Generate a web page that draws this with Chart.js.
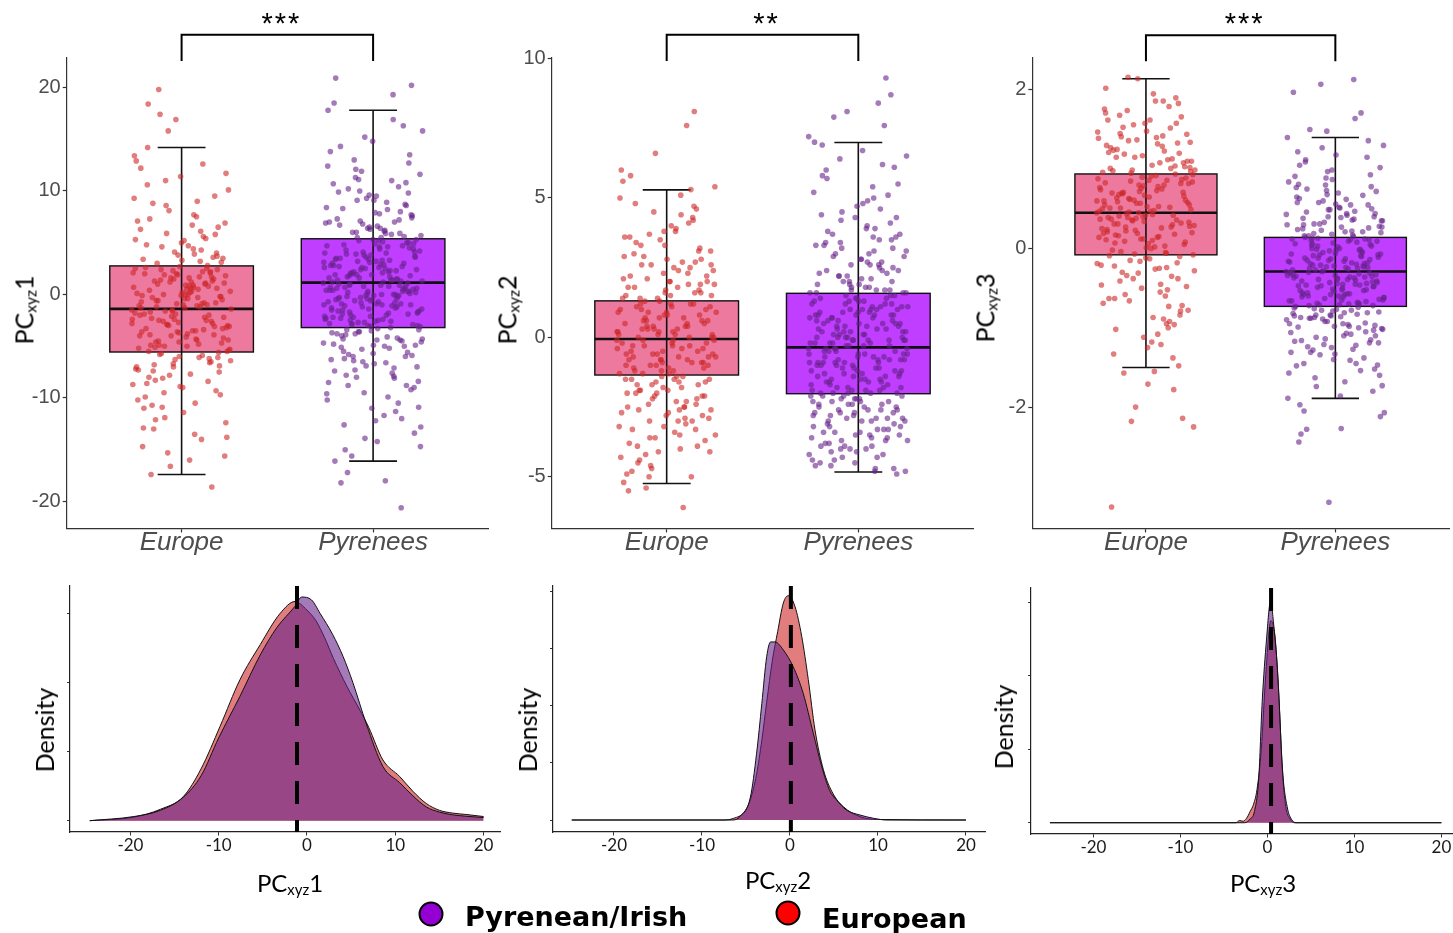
<!DOCTYPE html>
<html lang="en">
<head>
<meta charset="UTF-8">
<title>PCxyz scores: Europe vs Pyrenees</title>
<script src="https://cdn.jsdelivr.net/npm/chart.js@4.4.1/dist/chart.umd.min.js"></script>
<style>
  body { margin: 0; background: #fff; width: 1453px; height: 933px; position: relative; overflow: hidden; }
  canvas { position: absolute; }
  .ttl { position: absolute; white-space: nowrap; font-family: Lato, sans-serif; color: #000; transform: translate(-50%, -50%); }
  .rot { transform: translate(-50%, -50%) rotate(-90deg); }
  .ttl sub { font-size: 62%; vertical-align: -0.2em; }
  .dot { position: absolute; width: 21px; height: 21px; border: 2.5px solid #000; border-radius: 50%; transform: translate(-50%, -50%); }
  .lg { position: absolute; font-family: "DejaVu Sans", sans-serif; font-weight: bold; font-size: 27px; color: #000; transform: translateY(-50%); }
</style>
</head>
<body>

<canvas id="box1" width="495" height="565" style="left:0;top:0"></canvas>
<canvas id="box2" width="485" height="565" style="left:495px;top:0"></canvas>
<canvas id="box3" width="473" height="565" style="left:980px;top:0"></canvas>
<canvas id="dens1" width="475" height="300" style="left:30px;top:570px"></canvas>
<canvas id="dens2" width="480" height="300" style="left:510px;top:570px"></canvas>
<canvas id="dens3" width="463" height="300" style="left:990px;top:570px"></canvas>

<!-- axis titles -->
<div class="ttl rot" style="left:24px;top:310px;font-size:25px">PC<sub>xyz</sub>1</div>
<div class="ttl rot" style="left:507px;top:310px;font-size:25px">PC<sub>xyz</sub>2</div>
<div class="ttl rot" style="left:985px;top:308px;font-size:25px">PC<sub>xyz</sub>3</div>
<div class="ttl rot" style="left:44px;top:730px;font-size:25px">Density</div>
<div class="ttl rot" style="left:527px;top:730px;font-size:25px">Density</div>
<div class="ttl rot" style="left:1003px;top:727px;font-size:25px">Density</div>
<div class="ttl" style="left:290px;top:883px;font-size:24px">PC<sub>xyz</sub>1</div>
<div class="ttl" style="left:778px;top:880px;font-size:24px">PC<sub>xyz</sub>2</div>
<div class="ttl" style="left:1263px;top:883px;font-size:24px">PC<sub>xyz</sub>3</div>

<!-- legend -->
<div class="dot" style="left:431px;top:914px;background:#9400D3"></div>
<div class="lg" style="left:465px;top:916px">Pyrenean/Irish</div>
<div class="dot" style="left:788px;top:913px;background:#FF0000"></div>
<div class="lg" style="left:822px;top:918px">European</div>

<script>
const categories = ['Europe', 'Pyrenees'];

// jittered individual scores
const eurPC1 = [-1.5, 4.4, -8.3, 0.6, -3.7, 12.2, -5.9, 1.9, -12.4, -0.4, 7.3, -2.6, -6.7, 2.5, -4.4, 19.8,
  -9.7, 0.2, -1.9, 5.4, -15.3, -3.1, 1.2, -7.4, 9.5, -0.9, -5.2, 3.2, -10.9, -2.2, 0.9, 14.2,
  -6.2, -4.0, 2.1, -13.5, -1.2, 6.5, -8.9, -0.1, -3.4, 11.0, -5.5, 1.6, -17.4, -2.8, 4.1, -7.0,
  0.5, 17.4, -4.7, -11.4, 2.6, -1.0, 8.1, -6.4, -3.5, 1.3, -9.3, 3.8, -2.0, -14.0, 0.0, 6.9,
  -5.0, -8.0, 2.2, -1.6, 13.4, -4.3, -0.6, -6.9, 5.0, -12.9, 1.0, -2.9, 10.1, -7.7, -0.3, -3.9,
  16.9, -10.2, 1.7, -5.7, 3.5, -1.3, -8.6, 0.8, -16.6, -2.4, 7.7, -4.6, 2.4, -6.0, -0.7, 12.6,
  -11.9, -3.2, 4.7, -1.7, -18.6, 1.5, -7.2, 9.0, -4.9, -0.2, -9.0, 2.0, -2.5, 15.8, -5.3, 0.3,
  -13.0, 5.8, -3.6, -1.1, 6.1, -8.1, 1.1, -4.1, 18.4, -6.6, -2.1, 0.7, -10.5, 3.0, -5.6, 11.4,
  -14.7, -0.8, 8.6, -3.0, -16.0,
  -2.3, 3.6, -6.3, 0.1, -4.8, 1.4, -0.5, 5.2, -3.3, 2.8, -7.8, -1.4, 0.9, -5.1, 4.0, -2.7,
  6.3, -0.9, -9.5, 1.8, -3.8, 0.4, -6.5, 2.3, -1.8, 7.5, -4.5, -0.2, 3.3, -11.0, 1.1, -2.9,
  -5.4, 0.6, 8.8, -3.1, 2.0, -7.3, -1.2, 4.6, -4.2, 0.0, 10.6, -2.0, 1.6, -8.7, 3.9, -0.6,
  -6.1, 2.7, -3.6, 5.6, -1.6, -13.8, 0.8, -4.9, 1.3, -2.4, 12.9, -0.3, -5.8, 3.1, -1.0, -9.9,
  2.5, -3.0, 0.3, 6.7, -6.8, -0.8, 1.9, -4.0, 4.3, -2.6, -15.6, 0.5, -5.5, 2.1, -1.5, 9.3,
  -3.5, 1.0, -7.5, -0.1, 3.4, -2.2, 5.9, -4.4, 0.2, -10.7, 1.5, -1.9, 7.1, -6.1, 2.4, -3.3,
  -0.4, 4.8, -8.4, 1.2, -2.8, 0.7, -12.1, 3.7, -4.6, -1.3, 2.2, -5.0, 11.7, 0.0, -3.9, 1.7,
  -7.0, 5.3, -1.1, -2.5];
const pyrPC1 = [1.1, 6.2, -3.4, 9.8, -0.6, 3.0, -7.9, 12.1, -1.8, 4.6, -5.1, 0.3, 15.2, -9.6, 2.2, -2.5,
  7.4, -0.1, 20.9, -4.2, 1.6, -12.8, 5.1, -1.1, 8.6, -3.0, 0.7, 11.0, -6.4, 3.6, -14.2, 2.7,
  -0.9, 6.8, -2.1, 4.0, -8.8, 13.5, 1.9, -4.8, 0.0, 9.1, -10.9, 2.9, -1.5, 5.6, -6.9, 17.8,
  3.3, -2.8, 0.5, 7.9, -3.8, 10.4, -0.3, 1.3, -11.7, 4.3, -5.6, 6.5, -1.3, 19.3, -7.3, 2.4,
  -0.7, 14.3, -4.5, 3.8, -2.3, 8.2, 0.9, -9.2, 5.3, -16.1, 1.5, -3.6, 11.6, -1.0, 4.8, -6.0,
  0.1, 7.0, -2.6, 2.0, -13.4, 9.5, -0.4, 5.9, -5.3, 3.1, -18.0, 1.7, 12.7, -3.1, 0.4, -8.1,
  6.0, -1.7, 4.4, -4.0, 16.3, 2.5, -10.2, 0.8, -2.0, 7.6, -6.7, 3.5, -0.2, 10.0, -4.6, 1.2,
  -15.0, 5.0, -1.4, 2.8, -7.6, 13.0, 0.2, -3.3, 6.7, -20.6, 4.1, -2.4, 8.9, -5.8, 1.8, -0.5,
  18.5, -11.3, 3.2, -1.6, 5.5, -4.3, 0.6, 9.3, -8.5, 2.3, -2.9, 4.9, -12.2, 1.4, 7.2, -0.8,
  15.8, -5.0, 3.9, -1.9, 6.3, -3.7, 0.0, 11.3, -7.0, 2.6, -18.2, 4.7, -2.7, 8.4, -9.9, 1.0,
  20.2, -4.9, 3.4, -1.2, 5.2, -14.7, 2.1, -6.2, 10.8, 0.3,
  0.4, 5.8, -2.2, 3.7, -4.4, 1.0, 8.0, -1.2, 2.6, -6.6, 0.2, 4.5, -3.5, 10.7, -0.8, 1.9,
  -8.4, 6.4, -1.9, 3.0, -0.1, 12.4, -5.2, 2.1, -2.9, 4.9, 0.6, -10.5, 7.1, -1.4, 2.9, -3.9,
  0.3, 9.6, -6.3, 1.4, -0.6, 5.3, -2.5, 3.5, -12.0, 0.8, 6.9, -4.1, 1.8, -1.0, 14.8, -7.4,
  2.3, -2.7, 4.2, 0.0, -5.5, 8.7, -0.4, 1.6, -3.2, 6.0, -9.0, 3.2, -1.6, 0.9, 11.9, -4.7,
  2.5, -0.2, 5.0, -2.1, 1.2, -7.1, 3.9, -3.0, 7.8, -0.9, 0.5, -13.9, 4.7, -1.8, 2.0, -5.9,
  9.1, -0.5, 1.5, -3.6, 5.7, -2.4, 0.7, -8.8, 3.4, 13.8, -1.1, 2.2, -4.9, 6.6, -0.3, 1.3,
  -6.5, 4.0, -2.0, 10.2, 0.1, -11.0, 2.8, -1.3, 5.5, -3.4, 0.9, 8.3, -5.0, 3.6, -0.7, 1.7,
  -15.6, 4.4, -2.6, 7.3, -0.1, 2.4, -4.3, 6.1, -7.8, 1.1, 3.1, -1.5, 16.9, -3.8, 0.6, 5.2,
  -2.3, 2.7, -9.5, 0.4, 4.6, -1.7, 7.7, -5.7, 1.9, -0.4, 11.1, -3.1, 3.3, -12.6, 0.8, 6.4,
  -2.8, 1.4, -6.0, 4.1, -0.9, 9.9, -4.4, 2.6, -1.0, 5.9, -17.2, 0.3, 3.8, -2.2, 7.0, -8.0];
const eurPC2 = [-0.1, 2.4, -1.9, 0.6, -3.2, 1.5, -0.8, 3.7, -2.6, 0.2, -1.2, 4.6, -4.1, 1.0, -0.4, 2.9,
  -1.6, 0.8, -3.8, 5.3, -0.6, 1.9, -2.3, 0.0, 3.2, -1.4, -5.2, 0.4, 2.1, -2.9, 1.2, -0.3,
  8.1, -1.0, 0.9, -3.5, 2.6, -0.9, 1.6, -2.0, 4.1, -4.6, 0.1, -1.5, 3.4, -0.5, 1.3, -2.7,
  -6.1, 0.7, 2.2, -1.1, 5.8, -3.0, 0.3, -0.7, 1.8, -4.4, 2.8, -1.8, 0.5, 7.6, -2.4, 1.1,
  -0.2, 3.0, -3.3, 1.4, -1.3, 4.4, -0.1, -2.1, 0.9, -5.5, 2.5, -1.7, 0.0, 3.8, -3.9, 1.7,
  -0.8, 5.6, -2.5, 0.6, -1.0, 2.0, -4.8, 1.2, 6.6, -0.4, -1.6, 3.3, -2.8, 0.8, -0.6, 2.3,
  -3.6, 1.5, -1.2, 4.8, -2.2, 0.2, -4.3, 2.7, -0.3, 1.0, -1.9, 3.6, -5.0, 0.4, 5.4, -1.4,
  -2.6, 1.9, -0.9, 2.9, -3.1, 0.3, -1.5, 4.0, -0.7, 1.6, -2.0, 0.1, -4.0,
  0.3, -1.1, 1.7, -2.5, 0.0, 2.6, -0.6, -3.4, 1.1, -1.7, 3.5, -0.2, 0.7, -4.2, 2.0, -1.3,
  -0.5, 4.3, -2.1, 0.9, -3.0, 1.4, -0.9, 2.3, -1.5, 0.5, -5.0, 3.1, -0.3, 1.8, -2.4, 0.1,
  5.0, -1.8, 0.6, -3.7, 2.8, -0.8, 1.2, -2.2, -0.1, 3.9, -4.5, 0.8, -1.2, 2.1, -2.9, 0.4,
  -0.7, 1.5, -3.3, 4.7, -1.6, 0.2, -2.6, 1.0, -0.4, 3.3, -4.9, 1.9, -1.0, 0.0, 2.5, -2.0,
  -3.9, 0.7, 6.0, -1.4, 1.3, -0.2, -2.7, 2.2, -0.9, 4.5, -3.5, 0.3, -1.9, 1.6, -0.5, 3.6,
  -2.3, 0.9, -4.1, 1.1, -1.1, 2.7, -0.6, -3.2, 5.1, -1.3, 0.5, -2.8, 1.8, -0.3, -4.7, 2.4,
  0.1, -1.7, 3.1, -0.8, 1.4, -2.5, -5.4, 0.6, 2.0, -1.5, 4.2, -3.6, 0.2, -0.7, 1.2, -2.1,
  3.8, -1.0, 0.4, -3.0, 2.6, -0.1];
const pyrPC2 = [-0.4, 2.6, -2.3, 0.8, -3.5, 1.9, -1.1, 4.2, -2.9, 0.1, -1.6, 5.1, -4.0, 1.2, -0.7, 3.0,
  -2.0, 0.5, -3.9, 6.2, -0.9, 1.6, -2.6, -0.2, 3.5, -1.4, -4.6, 0.3, 2.2, -3.2, 1.0, -0.5,
  9.3, -1.8, 0.7, -3.0, 2.9, -1.2, 1.4, -2.4, 4.6, -4.3, -0.1, -1.9, 3.8, -0.8, 1.7, -2.8,
  -4.8, 0.4, 2.4, -1.5, 6.9, -3.3, 0.0, -0.6, 1.8, -4.1, 3.2, -2.2, 0.6, 8.4, -2.7, 1.1,
  -0.3, 3.4, -3.6, 1.3, -1.7, 5.4, -0.4, -2.5, 0.9, -4.5, 2.7, -2.1, -0.1, 4.0, -3.8, 1.5,
  -1.0, 7.0, -2.9, 0.6, -1.3, 2.1, -3.4, 1.2, 8.1, -0.6, -2.0, 3.7, -3.1, 0.8, -0.9, 2.5,
  -3.7, 1.6, -1.5, 5.7, -2.3, 0.2, -4.4, 3.1, -0.5, 1.0, -2.2, 4.4, -4.2, 0.4, 6.5, -1.6,
  -2.8, 2.0, -1.1, 3.3, -3.3, 0.1, -1.8, 4.8, -0.7, 1.4, -2.4, -0.2, -3.9, 7.9, 0.5, -1.2,
  2.3, -2.6, 0.9, -0.8, 3.9, -3.0, 1.7, -1.9, 5.2, -4.7, 0.3, -1.4, 2.8, -2.1, 7.6, -0.3,
  1.1, -3.5, 0.7, -2.7, 4.3, -1.0, 2.6, -4.0, 0.0, -2.5, 6.0, -1.7, 1.9, -3.6, 3.6, -0.9,
  -4.9, 1.3, -2.0, 2.4, -1.3, 0.2, 4.9, -3.2, 0.8, -0.1,
  -0.2, 1.0, -2.6, 0.5, -1.3, 3.3, -3.7, 0.0, -0.9, 2.1, -2.0, 1.5, -4.1, 0.3, -1.5, 4.5,
  -0.6, 1.8, -3.1, -0.1, 2.6, -2.3, 0.8, -1.0, 5.5, -3.4, 0.2, -1.8, 1.2, -0.4, 3.0, -4.6,
  0.6, -2.7, 1.6, -0.8, 6.4, -1.2, 0.1, -3.8, 2.3, -0.3, -2.1, 1.1, -4.4, 3.6, -0.7, 0.9,
  -1.6, 2.0, -3.0, 0.4, -0.5, 4.1, -2.4, 1.3, -1.1, 0.0, -3.5, 2.8, -0.9, 1.7, -2.9, 7.2,
  -0.2, 0.7, -4.7, 1.4, -1.4, 3.5, -2.2, 0.2, -0.6, 2.4, -3.3, 1.0, -1.9, 5.0, -0.4, -2.6,
  1.9, -1.0, 0.5, -3.9, 3.1, -0.1, -1.7, 1.2, -2.8, 0.8, -4.3, 2.2, -0.8, 6.7, -1.3, 0.3,
  -2.0, 1.6, -3.6, 0.1, -0.5, 4.7, -2.5, 1.1, -1.1, 2.9, -4.0, 0.6, -0.3, 1.8, -3.2, 3.9,
  -1.8, 0.4, -2.3, 5.8, -0.7, 1.5, -3.7, 0.9, -1.5, 2.5, -4.5, 0.0, -0.9, 3.4, -2.1, 1.3,
  -0.4, -2.9, 2.0, -1.2, 0.7, -3.4, 4.3, -0.6, 1.4, -2.4, 0.2, -4.8, 2.7, -1.6, 8.7, -0.1,
  -2.7, 1.7, -0.8, 3.7, -3.0, 0.5, -1.4, 2.2, -4.2, 1.0, -0.2, 6.1, -2.2, 0.8, -1.9, 3.2];
const eurPC3 = [0.45, 1.32, -0.41, 0.82, 0.12, 1.71, -0.95, 0.63, 0.28, 1.05, -0.22, 0.94, 2.14, 0.37, -1.21, 0.71,
  0.05, 1.48, -0.63, 0.52, 0.99, -0.08, 1.86, 0.31, -1.48, 0.76, 0.19, 1.23, -0.34, 0.58, 1.62, -0.02,
  0.42, -2.0, 0.88, 0.15, 1.41, -0.72, 0.67, 0.24, 1.12, -0.15, 0.49, 1.95, -1.02, 0.36, 0.80, -0.46,
  1.29, 0.09, 0.61, -1.71, 1.01, 0.27, 1.56, -0.28, 0.73, 0.41, -0.84, 1.17, 0.55, -0.05, 2.16, 0.33,
  0.91, -1.33, 0.18, 1.37, 0.47, -0.55, 0.69, 1.08, -0.12, 0.39, 1.79, -2.18, 0.84, 0.02, 1.25, -0.38,
  0.57, 0.96, -0.89, 0.22, 1.44, 0.65, -3.26, 0.30, 1.15, -0.19, 0.78, 0.51, 1.66, -1.12, 0.11, 0.86,
  -0.66, 1.34, 0.43, 0.07, 1.90, -0.31, 0.74, 0.26, -1.57, 1.03, 0.53, -0.09, 1.52, 0.35, -2.25, 0.92,
  0.16, 1.20, -0.50, 0.60, 0.03, 1.74, -0.78, 0.47, 0.98, -1.78, 0.38, 1.39, -0.25, 0.70, -2.14, 1.58,
  0.21, -1.0, 0.85, 1.10,
  0.48, 1.15, -0.18, 0.72, 0.25, 1.42, -0.58, 0.89, 0.06, 1.27, -0.35, 0.61, 0.99, 0.14, 1.68, -0.79,
  0.40, 0.83, -0.06, 1.36, 0.55, -1.18, 0.31, 1.04, 0.19, 0.77, -0.45, 1.53, 0.66, 0.01, 1.21, -0.92,
  0.36, 0.93, -0.26, 0.59, 1.83, 0.12, -0.69, 0.80, 0.44, 1.10, -0.13, 0.70, -1.38, 0.23, 1.47, 0.53,
  -0.04, 0.87, 0.34, 1.30, -0.52, 0.62, 0.97, -0.87, 0.17, 1.58, 0.45, -0.21, 0.75, 1.19, 0.08, -1.25,
  0.51, 1.01, -0.38, 0.29, 1.40, 0.68, -0.10, 0.90, 1.76, -0.60, 0.39, 0.82, 0.00, 1.24, -0.96, 0.57,
  0.14, 1.08, -0.30, 0.71, 0.42, 1.62, -0.73, 0.95, 0.20, -1.55, 0.64, 1.33, -0.16, 0.50, 1.86, 0.27,
  -0.48, 0.86, 0.37, 1.13, -0.07, 0.60, -1.08, 1.45, 0.32, 0.79, 2.02, -0.24, 0.46, 1.02, 0.10, -0.63];
const pyrPC3 = [-0.29, 0.42, -0.88, 0.05, -0.51, 0.91, -1.22, -0.12, -0.64, 0.27, -1.45, -0.36, 0.68, -0.95, 0.11, -0.21,
  -1.03, 1.18, -0.47, -0.02, -0.78, 0.35, -1.68, -0.15, 0.55, -0.58, -0.33, 2.13, -1.12, 0.09, -0.71, -0.41,
  0.21, -0.92, 1.40, -0.26, -1.31, 0.03, -0.54, 0.77, -0.83, -0.08, -2.12, -0.45, 0.14, -0.67, 0.49, -1.06,
  -0.18, 0.31, -0.97, -0.38, 1.05, -1.54, -0.05, -0.62, 0.62, -0.30, -1.19, 0.18, -0.75, 1.64, -0.49, -0.11,
  -0.86, 0.38, -1.38, -0.23, 0.84, -0.57, 0.00, -1.80, -0.34, 0.24, -0.69, 2.07, -1.01, -0.16, 0.46, -0.81,
  -0.43, 0.12, -1.27, -0.27, 0.72, -0.60, -2.34, -0.04, 0.33, -0.90, -0.39, 1.50, -1.15, 0.07, -0.73, -0.20,
  0.58, -1.60, -0.52, 0.16, -0.94, 0.97, -0.31, -1.08, -0.09, 0.40, -0.77, -2.44, -0.46, 1.27, -0.65, -0.13,
  -1.24, 0.26, -0.85, 1.97, -0.37, -0.01, -1.47, 0.51, -0.56, -0.22, 0.80, -1.89, -0.70, 0.10, -0.35, -0.98,
  0.65, -0.25, -1.34, 0.20, -0.61, 1.12, -0.44, -3.2, -0.07, 0.36, -0.87, -1.10, 0.02, -0.53, 1.71, -0.28,
  -2.07, 0.44, -0.72, -0.14, 0.87, -1.17, -0.40, 0.13, -0.80, -2.27, 0.30, -0.19, 1.48, -0.66, -1.41, 0.06,
  -0.48, 0.56, -0.99, -0.32, 0.23, -1.73, -0.58, 0.75, -0.24, -0.84,
  -0.27, 0.15, -0.84, -0.41, 0.52, -1.16, -0.05, -0.63, 0.30, -0.96, -0.19, 0.78, -1.40, -0.35, 0.08, -0.71,
  1.02, -0.50, -0.12, -1.05, 0.40, -0.30, -0.78, 0.19, -1.52, -0.44, 0.63, -0.01, -0.89, 1.30, -0.24, -0.60,
  0.11, -1.25, -0.37, 0.47, -0.69, -0.08, -1.86, 0.25, -0.53, 0.89, -0.16, -0.98, 0.04, -0.42, -1.33, 0.58,
  -0.74, -0.21, 0.35, -1.10, -0.46, 1.15, -0.03, -0.66, 0.17, -1.63, -0.33, 0.70, -0.87, -0.10, -1.21, 0.43,
  -0.57, -0.25, 0.93, -0.79, 0.06, -1.45, -0.39, 0.28, -0.65, -2.05, 0.12, -0.92, -0.17, 0.55, -1.28, -0.48,
  -0.02, 0.81, -0.70, -0.29, -1.02, 0.21, -0.56, 1.36, -0.13, -0.82, 0.37, -1.74, -0.43, 0.00, -0.61, 0.67,
  -1.14, -0.34, 0.09, -0.88, 0.50, -0.22, -1.48, -0.68, 0.31, -0.07, -0.95, 1.09, -0.52, -0.15, -1.31, 0.22,
  -0.76, 0.44, -0.38, -1.97, -0.09, 0.60, -0.62, -1.07, 0.16, -0.31, 0.99, -0.85, -0.45, 0.03, -1.19, 0.39,
  -0.58, -0.23, 0.73, -1.57, -0.36, 0.13, -0.72, -0.06, 1.22, -1.00, -0.47, 0.27, -0.81, -2.28, -0.18, 0.49];

// box stats: [lower whisker, Q1, median, Q3, upper whisker]
const eurBox1 = [-17.4, -5.56, -1.39, 2.76, 14.2];
const pyrBox1 = [-16.1, -3.2, 1.14, 5.38, 17.8];
const eurBox2 = [-5.24, -1.35, -0.06, 1.31, 5.29];
const pyrBox2 = [-4.83, -2.02, -0.36, 1.58, 6.99];
const eurBox3 = [-1.5, -0.08, 0.45, 0.94, 2.14];
const pyrBox3 = [-1.89, -0.73, -0.29, 0.14, 1.40];

const yTicks1 = [-20, -10, 0, 10, 20];
const yTicks2 = [-5, 0, 5, 10];
const yTicks3 = [-2, 0, 2];

// significance brackets (low end, high end) in score units
const sigLabels = ['***', '**', '***'];
const sigLow = [22.56, 9.91, 2.36];
const sigHigh = [25.1, 10.85, 2.69];

// density curves
const densTicks = [-20, -10, 0, 10, 20];
const eurDensX1 = [-24.6, -19.7, -16.6, -14, -12, -9.85, -7.6, -5.3, -3.06, -1.36, 0, 1, 2, 3, 4.5, 6, 7, 8.6, 10.5, 12, 13.5, 15, 16.5, 18, 20];
const eurDensY1 = [0, 0.001, 0.0033, 0.007, 0.015, 0.0273, 0.0408, 0.051, 0.060, 0.0635, 0.061, 0.058, 0.053, 0.047, 0.039, 0.032, 0.027, 0.0176, 0.0128, 0.0085, 0.005, 0.003, 0.0022, 0.0018, 0.0012];
const pyrDensX1 = [-24.6, -19.6, -16.6, -14, -12, -10, -7.6, -5.3, -3.4, -1.4, -0.6, 0.5, 1.5, 2.9, 4.1, 5.2, 6.7, 8.6, 10.5, 12, 13.5, 15, 16.5, 18, 20];
const pyrDensY1 = [0, 0.0012, 0.003, 0.0068, 0.013, 0.024, 0.036, 0.048, 0.056, 0.062, 0.0648, 0.064, 0.060, 0.054, 0.0475, 0.040, 0.0282, 0.0157, 0.011, 0.0072, 0.004, 0.0025, 0.0017, 0.0013, 0.0009];
const eurDensX2 = [-24.8, -7.5, -6.4, -5.2, -4.5, -3.8, -3.2, -2.65, -2.0, -1.4, -0.76, -0.2, 0.57, 1.33, 2.08, 2.84, 3.8, 4.9, 6.06, 7.95, 9.85, 20];
const eurDensY2 = [0, 0, 0.0015, 0.007, 0.018, 0.04, 0.07, 0.103, 0.14, 0.165, 0.19, 0.1965, 0.187, 0.161, 0.123, 0.079, 0.044, 0.023, 0.0117, 0.003, 0.0005, 0];
const pyrDensX2 = [-24.8, -6.5, -5.7, -4.5, -3.8, -3.2, -2.65, -2.2, -1.7, -0.76, 0.38, 1.5, 2.65, 3.6, 4.5, 5.3, 6.4, 7.95, 9.5, 11, 20];
const pyrDensY2 = [0, 0, 0.003, 0.02, 0.058, 0.102, 0.143, 0.156, 0.156, 0.149, 0.134, 0.111, 0.076, 0.047, 0.026, 0.0175, 0.0088, 0.0044, 0.0015, 0, 0];
const eurDensX3 = [-25, -3.6, -3.2, -2.8, -2.4, -2.0, -1.6, -1.2, -0.7, -0.2, 0.4, 0.9, 1.3, 1.7, 2.1, 2.6, 3.1, 20];
const eurDensY3 = [0, 0, 0.006, 0.004, 0.012, 0.03, 0.05, 0.09, 0.2, 0.4, 0.55, 0.5, 0.35, 0.15, 0.045, 0.01, 0, 0];
const pyrDensX3 = [-25, -2.6, -2.0, -1.5, -1.0, -0.6, -0.1, 0.35, 0.8, 1.2, 1.75, 2.3, 2.8, 3.3, 20];
const pyrDensY3 = [0, 0, 0.01, 0.03, 0.12, 0.33, 0.5, 0.6, 0.52, 0.4, 0.14, 0.04, 0.008, 0, 0];

// European median marked on each density panel
const refLines = [-1.13, 0.1, 0.42];

const eurBoxFill = '#EE799F', pyrBoxFill = '#BF3EFF';
const eurCol = 'rgba(205,38,38,0.6)', pyrCol = 'rgba(104,34,139,0.6)';

// spread points evenly across the jitter band
const JIT = 0.26;
const jitter = i => ((i * 0.6180339887) % 1 - 0.5) * 2 * JIT;

const boxPlugin = boxes => ({
  id: 'boxes',
  beforeDatasetsDraw(chart) {
    const { ctx, scales: { x, y } } = chart;
    ctx.save();
    boxes.forEach((b, k) => {
      const c = k + 1;
      const [lo, q1, med, q3, hi] = b.stats;
      const xl = x.getPixelForValue(c - 0.375), xr = x.getPixelForValue(c + 0.375);
      const yq1 = y.getPixelForValue(q1), yq3 = y.getPixelForValue(q3);
      ctx.fillStyle = b.fill;
      ctx.fillRect(xl, yq3, xr - xl, yq1 - yq3);
      ctx.strokeStyle = '#111';
      ctx.lineWidth = 1.4;
      ctx.strokeRect(xl, yq3, xr - xl, yq1 - yq3);
      ctx.lineWidth = 2.6;
      ctx.beginPath();
      ctx.moveTo(xl, y.getPixelForValue(med));
      ctx.lineTo(xr, y.getPixelForValue(med));
      ctx.stroke();
      // error bar
      const xc = x.getPixelForValue(c), cl = x.getPixelForValue(c - 0.125), cr = x.getPixelForValue(c + 0.125);
      const ylo = y.getPixelForValue(lo), yhi = y.getPixelForValue(hi);
      ctx.lineWidth = 1.6;
      ctx.beginPath();
      ctx.moveTo(xc, ylo); ctx.lineTo(xc, yhi);
      ctx.moveTo(cl, ylo); ctx.lineTo(cr, ylo);
      ctx.moveTo(cl, yhi); ctx.lineTo(cr, yhi);
      ctx.stroke();
    });
    ctx.restore();
  }
});

const sigPlugin = k => ({
  id: 'sig',
  afterDraw(chart) {
    const { ctx, scales: { x, y } } = chart;
    const x1 = x.getPixelForValue(1), x2 = x.getPixelForValue(2);
    const yl = y.getPixelForValue(sigLow[k]), yh = y.getPixelForValue(sigHigh[k]);
    ctx.save();
    ctx.strokeStyle = '#000';
    ctx.lineWidth = 2;
    ctx.beginPath();
    ctx.moveTo(x1, yl); ctx.lineTo(x1, yh); ctx.lineTo(x2, yh); ctx.lineTo(x2, yl);
    ctx.stroke();
    ctx.fillStyle = '#000';
    ctx.font = '29px "Liberation Sans"';
    ctx.letterSpacing = '2px';
    ctx.textAlign = 'center';
    ctx.textBaseline = 'middle';
    ctx.fillText(sigLabels[k], (x1 + x2) / 2 + 4, yh - 10);
    ctx.restore();
  }
});

const refPlugin = k => ({
  id: 'ref',
  afterDatasetsDraw(chart) {
    const { ctx, chartArea, scales: { x } } = chart;
    const px = x.getPixelForValue(refLines[k]);
    ctx.save();
    ctx.strokeStyle = '#000';
    ctx.lineWidth = 4;
    ctx.setLineDash([23, 16]);
    ctx.beginPath();
    ctx.moveTo(px, chartArea.top);
    ctx.lineTo(px, chartArea.bottom);
    ctx.stroke();
    ctx.restore();
  }
});

const fixed = (w, h) => s => {
  if (w !== null) s.width = w;
  if (h !== null) s.height = h;
  s.paddingLeft = 0; s.paddingRight = 0; s.paddingTop = 0; s.paddingBottom = 0;
};

function boxChart(id, k, eur, pyr, eurBox, pyrBox, yMin, yMax, yTicks, yW, padR) {
  const canvas = document.getElementById(id);
  return new Chart(canvas, {
    type: 'scatter',
    data: {
      datasets: [
        { data: eur.map((v, i) => ({ x: 1 + jitter(i), y: v })), backgroundColor: eurCol, pointRadius: 2.8, borderWidth: 0 },
        { data: pyr.map((v, i) => ({ x: 2 + jitter(i), y: v })), backgroundColor: pyrCol, pointRadius: 2.8, borderWidth: 0 }
      ]
    },
    options: {
      responsive: false, animation: false, events: [],
      layout: { padding: { top: 57.4, right: padR, left: 0, bottom: 0 } },
      plugins: { legend: { display: false }, tooltip: { enabled: false } },
      scales: {
        x: {
          type: 'linear', min: 0.4, max: 2.6,
          afterBuildTicks: s => { s.ticks = [{ value: 1 }, { value: 2 }]; },
          afterFit: fixed(null, canvas.height - 528.4),
          ticks: { callback: v => categories[v - 1], font: { family: 'Liberation Sans', size: 26, style: 'italic' }, color: '#4D4D4D', padding: -5, maxRotation: 0, autoSkip: false },
          grid: { drawOnChartArea: false, tickLength: 4, tickColor: '#333', tickWidth: 1.2 },
          border: { color: '#333', width: 1.2 }
        },
        y: {
          min: yMin, max: yMax,
          afterBuildTicks: s => { s.ticks = yTicks.map(v => ({ value: v })); },
          afterFit: fixed(yW, null),
          ticks: { font: { family: 'Liberation Sans', size: 20 }, color: '#4D4D4D', padding: 2 },
          grid: { drawOnChartArea: false, tickLength: 4, tickColor: '#333', tickWidth: 1.2 },
          border: { color: '#333', width: 1.2 }
        }
      }
    },
    plugins: [boxPlugin([{ stats: eurBox, fill: eurBoxFill }, { stats: pyrBox, fill: pyrBoxFill }]), sigPlugin(k)]
  });
}

function densChart(id, k, ex, ey, px, py, xMin, xMax, yMin, yMax, yTicks, yW, padR, padT, xH) {
  const toPts = (xs, ys) => xs.map((v, i) => ({ x: v, y: ys[i] }));
  const line = (data, col) => ({ data, backgroundColor: col, borderColor: '#111', borderWidth: 1, pointRadius: 0, fill: 'origin', cubicInterpolationMode: 'monotone' });
  return new Chart(document.getElementById(id), {
    type: 'line',
    data: { datasets: [line(toPts(px, py), pyrCol), line(toPts(ex, ey), eurCol)] },
    options: {
      responsive: false, animation: false, events: [],
      layout: { padding: { top: padT, right: padR, left: 0, bottom: 0 } },
      plugins: { legend: { display: false }, tooltip: { enabled: false } },
      scales: {
        x: {
          type: 'linear', min: xMin, max: xMax,
          afterBuildTicks: s => { s.ticks = densTicks.map(v => ({ value: v })); },
          afterFit: fixed(null, xH),
          ticks: { font: { family: 'Lato', size: 17 }, color: '#1a1a1a', padding: 0, maxRotation: 0, autoSkip: false },
          grid: { drawOnChartArea: false, tickLength: 3.5, tickColor: '#333', tickWidth: 1 },
          border: { color: '#222', width: 1.2 }
        },
        y: {
          min: yMin, max: yMax,
          afterBuildTicks: s => { s.ticks = yTicks.map(v => ({ value: v })); },
          afterFit: fixed(yW, null),
          ticks: { callback: () => '' },
          grid: { drawOnChartArea: false, tickLength: 3, tickColor: '#333', tickWidth: 1 },
          border: { color: '#222', width: 1.2 }
        }
      }
    },
    plugins: [refPlugin(k)]
  });
}

boxChart('box1', 0, eurPC1, pyrPC1, eurBox1, pyrBox1, -22.6, 22.9, yTicks1, 66.7, 7);
boxChart('box2', 1, eurPC2, pyrPC2, eurBox2, pyrBox2, -6.85, 10.04, yTicks2, 56.7, 6.7);
boxChart('box3', 2, eurPC3, pyrPC3, eurBox3, pyrBox3, -3.53, 2.41, yTicks3, 52.3, 0);

densChart('dens1', 0, eurDensX1, eurDensY1, pyrDensX1, pyrDensY1, -26.84, 21.86, -0.00328, 0.068, [0, 0.02, 0.04, 0.06], 40, 5, 16, 38);
densChart('dens2', 1, eurDensX2, eurDensY2, pyrDensX2, pyrDensY2, -26.93, 22.16, -0.0105, 0.205, [0, 0.05, 0.1, 0.15, 0.2], 43, 5, 16, 38);
densChart('dens3', 2, eurDensX3, eurDensY3, pyrDensX3, pyrDensY3, -27.18, 21.22, -0.0307, 0.639, [0, 0.2, 0.4, 0.6], 41, 1, 18, 36);
</script>
</body>
</html>
